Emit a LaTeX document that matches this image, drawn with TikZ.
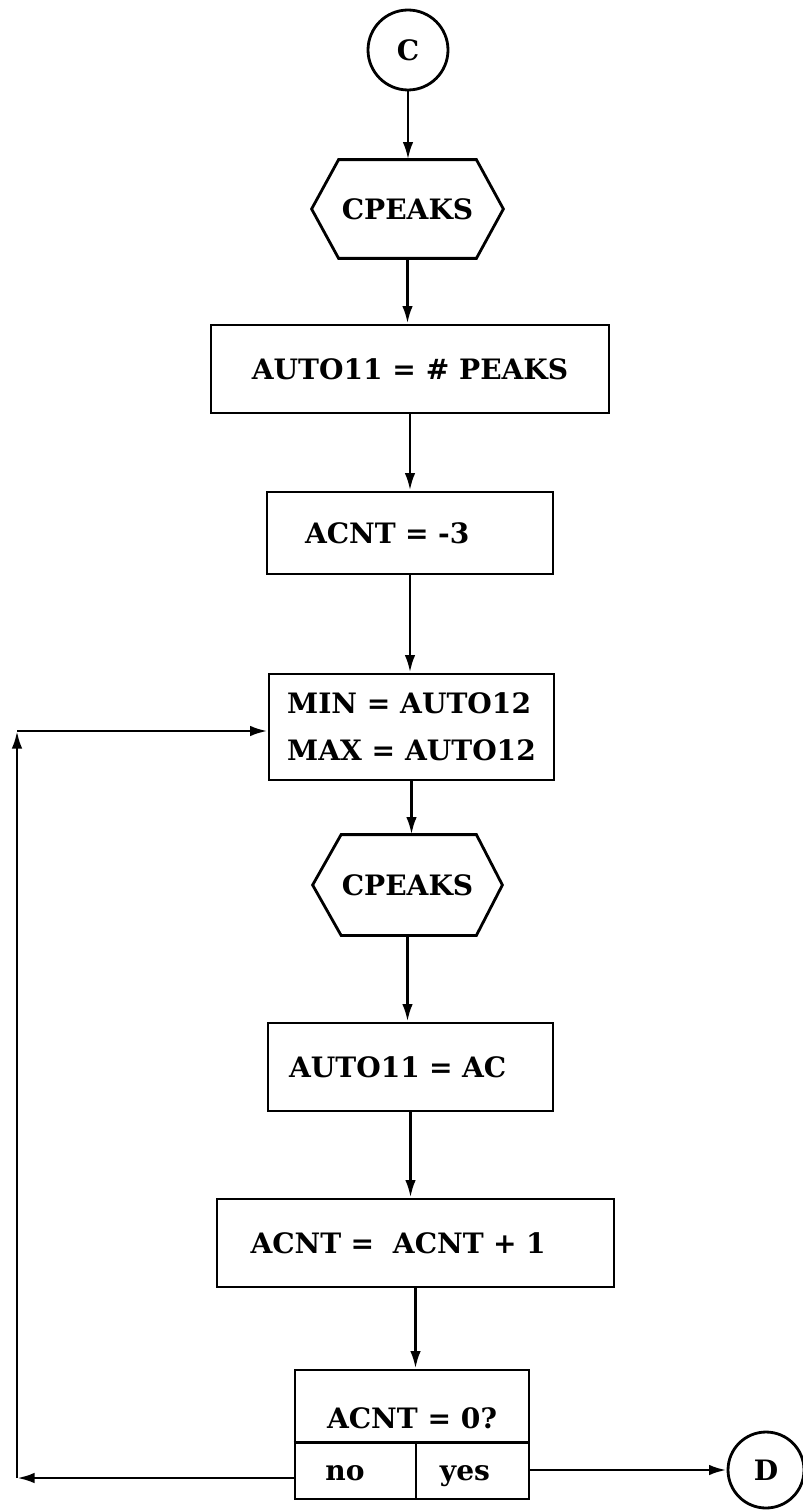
\documentclass[tikz,border=0pt]{standalone}
\usepackage{fontspec}
\setmainfont{DejaVu Serif}
\usetikzlibrary{arrows.meta}
\begin{document}
\begin{tikzpicture}[x=0.02cm,y=-0.02cm,
  line width=1.6pt,
  every node/.style={font=\bfseries\fontsize{16}{19}\selectfont},
  arr/.style={-{Latex[length=10pt,width=6pt]}},
  box/.style={draw, rectangle, inner ysep=0pt, align=left},
  conn/.style={draw, circle, inner sep=0pt},
  hexnode/.style={rectangle, inner sep=0pt},
]
\useasboundingbox (0,0) rectangle (802,1510);

% connector C
\node[conn, minimum size=1.6cm] (c) at (408,50) {C};

% hexagon 1
\node[hexnode, minimum width=3.78cm, minimum height=1.92cm] (h1) at (407.5,209) {CPEAKS};
\draw (h1.west) -- ([xshift=0.54cm]h1.north west) -- ([xshift=-0.54cm]h1.north east) -- (h1.east)
  -- ([xshift=-0.54cm]h1.south east) -- ([xshift=0.54cm]h1.south west) -- cycle;

% boxes
\node[box, minimum width=7.96cm, minimum height=1.76cm, align=center] (b1) at (410,369) {AUTO11 = \# PEAKS};
\node[box, text width=4.2cm, inner xsep=0.76cm, minimum height=1.64cm] (b2) at (410,533) {ACNT = -3};
\node[box, minimum width=5.7cm, minimum height=2.12cm,
      font=\bfseries\fontsize{16}{27}\selectfont] (b3) at (411.5,727) {MIN = AUTO12\\MAX = AUTO12};

% hexagon 2
\node[hexnode, minimum width=3.74cm, minimum height=1.96cm] (h2) at (407.5,885) {CPEAKS};
\draw (h2.west) -- ([xshift=0.57cm]h2.north west) -- ([xshift=-0.52cm]h2.north east) -- (h2.east)
  -- ([xshift=-0.52cm]h2.south east) -- ([xshift=0.57cm]h2.south west) -- cycle;

\node[box, text width=4.86cm, inner xsep=0.42cm, minimum height=1.76cm] (b4) at (410.5,1067) {AUTO11 = AC};
\node[box, text width=6.6cm, inner xsep=0.67cm, minimum height=1.76cm] (b5) at (415.5,1243) {ACNT =\ \ ACNT + 1};

% decision
\node[draw, rectangle, minimum width=4.68cm, minimum height=2.58cm, inner sep=0pt] (dec) at (412,1434.5) {};
\draw ([yshift=-1.48cm]dec.north west) -- ([yshift=-1.48cm]dec.north east);
\draw ([xshift=0.08cm,yshift=-1.48cm]dec.north) -- ([xshift=0.08cm]dec.south);
\node (q) at (412,1418) {ACNT = 0?};
\node[anchor=base] (no) at (345,1480) {no};
\node[anchor=base] (yes) at (465,1480) {yes};

% connector D
\node[conn, minimum size=1.52cm] (d) at (766,1470) {D};

% main flow
\draw[arr] (c.south) -- (c.south |- h1.north);
\draw[arr] (h1.south) -- (h1.south |- b1.north);
\draw[arr] (b1.south) -- (b1.south |- b2.north);
\draw[arr] (b2.south) -- (b2.south |- b3.north);
\draw[arr] (b3.south) -- (b3.south |- h2.north);
\draw[arr] (h2.south) -- (h2.south |- b4.north);
\draw[arr] (b4.south) -- (b4.south |- b5.north);
\draw[arr] (b5.south) -- (b5.south |- dec.north);

% loop back (no)
\coordinate (lb) at (17,1478);
\coordinate (lt) at (17,731);
\draw[arr] (dec.west |- lb) -- (lb);
\draw[arr] (lb) -- (lt);
\draw[arr] (lt) -- (lt -| b3.west);

% yes
\draw[arr] (dec.east |- d) -- (d);
\end{tikzpicture}
\end{document}
